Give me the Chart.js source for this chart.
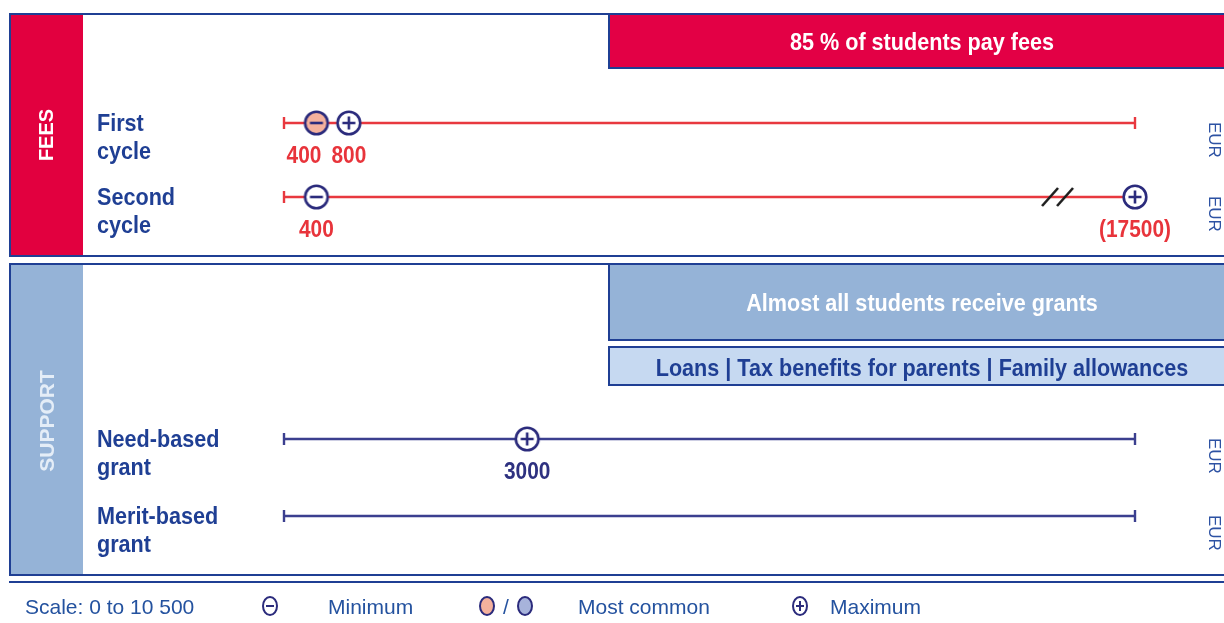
<!DOCTYPE html>
<html>
<head>
<meta charset="utf-8">
<script src="https://cdn.jsdelivr.net/npm/chart.js@4/dist/chart.umd.min.js"></script>
<style>
  html, body { margin: 0; padding: 0; background: #fff; }
  canvas { display: block; }
</style>
</head>
<body>
<canvas id="fees-chart" width="1224" height="623"></canvas>
<script>
// Fees and support ranges, in EUR. Scale runs 0 to 10 500.
const SCALE_MIN = 0;
const SCALE_MAX = 10500;
const CURRENCY = "EUR";

const rowLabels = [["First", "cycle"], ["Second", "cycle"], ["Need-based", "grant"], ["Merit-based", "grant"]];
const rowGroups = ["FEES", "FEES", "SUPPORT", "SUPPORT"];
const minimum    = [400, 400, null, null];
const mostCommon = [400, null, null, null];
const maximum    = [800, 17500, 3000, null];
const scaleBreak = [null, 9550, null, null]; // where the "//" sits on an off-scale line

const feesNote = "85 % of students pay fees";
const supportNote = "Almost all students receive grants";
const supportOther = "Loans | Tax benefits for parents | Family allowances";

// layout
const ROW_Y = [123, 197, 439, 516];
const NAVY = "#1f3f94";
const MARK = "#2b2b7c";
const RED_LINE = "#e8383f";
const BLUE_LINE = "#3b3f8f";
const SALMON = "#f4b19d";
const LIGHT_BLUE = "#95b3d7";
const BOLD = "bold 24px 'Liberation Sans', Arial, sans-serif";

function lineColor(i) { return rowGroups[i] === "FEES" ? RED_LINE : BLUE_LINE; }

function markerImg(sign, fill) {
  const c = document.createElement("canvas");
  c.width = c.height = 30;
  const g = c.getContext("2d");
  g.beginPath();
  g.arc(15, 15, 11.3, 0, Math.PI * 2);
  g.fillStyle = fill;
  g.fill();
  g.lineWidth = 2.6;
  g.strokeStyle = MARK;
  g.stroke();
  g.beginPath();
  g.moveTo(8.5, 15); g.lineTo(21.5, 15);
  if (sign === "+") { g.moveTo(15, 8.5); g.lineTo(15, 21.5); }
  g.stroke();
  return c;
}

function breakImg() {
  const c = document.createElement("canvas");
  c.width = 40; c.height = 24;
  const g = c.getContext("2d");
  g.strokeStyle = "#1e1e1e";
  g.lineWidth = 2.6;
  g.beginPath();
  g.moveTo(4, 21); g.lineTo(20, 3);
  g.moveTo(19, 21); g.lineTo(35, 3);
  g.stroke();
  return c;
}

const IMG = {
  minus: markerImg("-", "#fff"),
  minusCommon: markerImg("-", SALMON),
  plus: markerImg("+", "#fff"),
  common: markerImg("", SALMON),
  brk: breakImg()
};

function onScale(v) { return Math.min(Math.max(v, SCALE_MIN), SCALE_MAX); }

function pointsOf(values) {
  const out = [];
  values.forEach((v, i) => { if (v != null) out.push({ x: onScale(v), y: ROW_Y[i], row: i }); });
  return out;
}

function txt(ctx, s, x, y, font, color, align, sx) {
  ctx.save();
  ctx.translate(x, y);
  ctx.scale(sx || 1, 1);
  ctx.font = font;
  ctx.fillStyle = color;
  ctx.textAlign = align || "left";
  ctx.textBaseline = "alphabetic";
  ctx.fillText(s, 0, 0);
  ctx.restore();
}

function rotTxt(ctx, s, x, y, angle, font, color, align) {
  ctx.save();
  ctx.translate(x, y);
  ctx.rotate(angle);
  ctx.font = font;
  ctx.fillStyle = color;
  ctx.textAlign = align;
  ctx.textBaseline = "alphabetic";
  ctx.fillText(s, 0, 0);
  ctx.restore();
}

const panels = {
  id: "panels",
  beforeDraw(chart) {
    const ctx = chart.ctx;
    ctx.save();
    ctx.fillStyle = "#fff";
    ctx.fillRect(0, 0, chart.width, chart.height);

    // FEES panel
    ctx.fillStyle = "#e2003f";
    ctx.fillRect(11, 15, 72, 240);
    ctx.fillStyle = "#e30045";
    ctx.fillRect(610, 15, 614, 52);
    ctx.fillStyle = NAVY;
    ctx.fillRect(9, 13, 1215, 2);
    ctx.fillRect(9, 13, 2, 244);
    ctx.fillRect(9, 255, 1215, 2);
    ctx.fillRect(608, 15, 2, 54);
    ctx.fillRect(608, 67, 616, 2);

    // SUPPORT panel
    ctx.fillStyle = LIGHT_BLUE;
    ctx.fillRect(11, 265, 72, 309);
    ctx.fillRect(610, 265, 614, 74);
    ctx.fillStyle = "#c6d9f1";
    ctx.fillRect(610, 348, 614, 36);
    ctx.fillStyle = NAVY;
    ctx.fillRect(9, 263, 1215, 2);
    ctx.fillRect(9, 263, 2, 313);
    ctx.fillRect(9, 574, 1215, 2);
    ctx.fillRect(608, 265, 2, 76);
    ctx.fillRect(608, 339, 616, 2);
    ctx.fillRect(608, 346, 616, 2);
    ctx.fillRect(608, 384, 616, 2);
    ctx.fillRect(608, 346, 2, 40);
    ctx.fillRect(9, 581, 1215, 2);
    ctx.restore();

    rotTxt(ctx, "FEES", 53, 135, -Math.PI / 2, "bold 20px 'Liberation Sans', Arial, sans-serif", "#fff", "center");
    rotTxt(ctx, "SUPPORT", 54, 421, -Math.PI / 2, "bold 21px 'Liberation Sans', Arial, sans-serif", "#e4edf7", "center");

    txt(ctx, feesNote, 922, 50, BOLD, "#fff", "center", 0.9);
    txt(ctx, supportNote, 922, 311, BOLD, "#fff", "center", 0.9);
    txt(ctx, supportOther, 922, 376, BOLD, NAVY, "center", 0.9);

    rowLabels.forEach((lines, i) => {
      txt(ctx, lines[0], 97, ROW_Y[i] + 8, BOLD, NAVY, "left", 0.9);
      txt(ctx, lines[1], 97, ROW_Y[i] + 36, BOLD, NAVY, "left", 0.9);
      rotTxt(ctx, CURRENCY, 1209, ROW_Y[i] - 1, Math.PI / 2, "17px 'Liberation Sans', Arial, sans-serif", "#2d52a3", "left");
    });

    // legend
    const lf = "21px 'Liberation Sans', Arial, sans-serif";
    const lc = "#24529f";
    txt(ctx, "Scale: 0 to " + SCALE_MAX.toLocaleString("fr-FR").replace(/\s/g, " "), 25, 614, lf, lc, "left");
    const oval = (x, fill, sign) => {
      ctx.save();
      ctx.beginPath();
      ctx.ellipse(x, 606, 7, 9, 0, 0, Math.PI * 2);
      ctx.fillStyle = fill; ctx.fill();
      ctx.lineWidth = 2; ctx.strokeStyle = MARK; ctx.stroke();
      if (sign) {
        ctx.beginPath();
        ctx.moveTo(x - 4, 606); ctx.lineTo(x + 4, 606);
        if (sign === "+") { ctx.moveTo(x, 601); ctx.lineTo(x, 611); }
        ctx.stroke();
      }
      ctx.restore();
    };
    oval(270, "#fff", "-");
    txt(ctx, "Minimum", 328, 614, lf, lc, "left");
    oval(487, SALMON);
    txt(ctx, "/", 506, 614, lf, lc, "center");
    oval(525, "#a7b3db");
    txt(ctx, "Most common", 578, 614, lf, lc, "left");
    oval(800, "#fff", "+");
    txt(ctx, "Maximum", 830, 614, lf, lc, "left");
  }
};

const valueLabels = {
  id: "valueLabels",
  afterDatasetsDraw(chart) {
    const ctx = chart.ctx;
    const xs = chart.scales.x;
    const font = "bold 24px 'Liberation Sans', Arial, sans-serif";
    const sx = 0.87;
    ctx.save();
    ctx.font = font;
    rowLabels.forEach((_, i) => {
      const items = [];
      [minimum[i], maximum[i]].forEach(v => {
        if (v == null) return;
        if (items.some(it => it.v === v)) return;
        const s = v > SCALE_MAX ? "(" + v + ")" : String(v);
        items.push({ v, s, x: xs.getPixelForValue(onScale(v)), w: ctx.measureText(s).width * sx });
      });
      items.sort((a, b) => a.x - b.x);
      for (let k = items.length - 2; k >= 0; k--) {
        const a = items[k], b = items[k + 1];
        const gap = (b.x - b.w / 2) - (a.x + a.w / 2);
        if (gap < 10) a.x -= 10 - gap;
      }
      const col = rowGroups[i] === "FEES" ? "#e8343b" : "#2e3180";
      items.forEach(it => txt(ctx, it.s, it.x, ROW_Y[i] + 40, font, col, "center", sx));
    });
    ctx.restore();
  }
};

const datasets = [];

rowLabels.forEach((_, i) => {
  const endCovered = maximum[i] != null && maximum[i] >= SCALE_MAX;
  datasets.push({
    type: "scatter",
    data: [{ x: SCALE_MIN, y: ROW_Y[i] }, { x: SCALE_MAX, y: ROW_Y[i] }],
    showLine: true,
    borderColor: lineColor(i),
    borderWidth: 2.5,
    pointStyle: "line",
    rotation: 90,
    pointRadius: [6, endCovered ? 0 : 6],
    pointBorderWidth: 2.4,
    pointBorderColor: lineColor(i),
    clip: false,
    order: 5
  });
});

datasets.push({
  type: "scatter",
  data: pointsOf(scaleBreak),
  pointStyle: IMG.brk,
  clip: false,
  order: 4
});

datasets.push({
  type: "scatter",
  data: pointsOf(mostCommon).filter(p => mostCommon[p.row] !== minimum[p.row] && mostCommon[p.row] !== maximum[p.row]),
  pointStyle: IMG.common,
  clip: false,
  order: 3
});

datasets.push({
  type: "scatter",
  data: pointsOf(minimum),
  pointStyle: c => (mostCommon[c.raw.row] === minimum[c.raw.row] ? IMG.minusCommon : IMG.minus),
  clip: false,
  order: 2
});

datasets.push({
  type: "scatter",
  data: pointsOf(maximum),
  pointStyle: c => (mostCommon[c.raw.row] === maximum[c.raw.row] ? IMG.common : IMG.plus),
  clip: false,
  order: 1
});

new Chart(document.getElementById("fees-chart"), {
  type: "scatter",
  data: { datasets },
  options: {
    responsive: false,
    animation: false,
    devicePixelRatio: 1,
    events: [],
    layout: { autoPadding: false, padding: { left: 284, right: 89, top: 0, bottom: 0 } },
    plugins: { legend: { display: false }, tooltip: { enabled: false } },
    scales: {
      x: { type: "linear", min: SCALE_MIN, max: SCALE_MAX, display: false },
      y: { type: "linear", min: 0, max: 623, reverse: true, display: false }
    }
  },
  plugins: [panels, valueLabels]
});
</script>
</body>
</html>
